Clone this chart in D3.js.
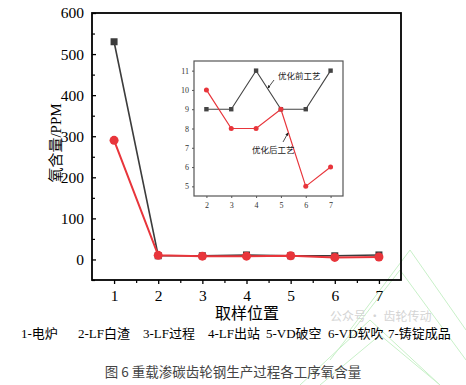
<!DOCTYPE html>
<html><head><meta charset="utf-8">
<script src="https://cdn.jsdelivr.net/npm/d3@7"></script>
<style>html,body{margin:0;padding:0;background:#fff;}svg{display:block;}</style>
</head><body>
<script>
const positions = [1,2,3,4,5,6,7];
const beforeVals = [530, 9, 9, 11, 9, 9, 11];
const afterVals  = [290, 10, 8, 8, 9, 5, 6];
const insetPositions = [2,3,4,5,6,7];
const insetBefore = [9, 9, 11, 9, 9, 11];
const insetAfter  = [10, 8, 8, 9, 5, 6];
const yTicks = [0,100,200,300,400,500,600];
const insetYTicks = [5,6,7,8,9,10,11];
const legendItems = ["1-电炉","2-LF白渣","3-LF过程","4-LF出站","5-VD破空","6-VD软吹","7-铸锭成品"];
const legendX = [21,78,143,208,266,328,388];

const W=466,H=385;
const svg=d3.select("body").append("svg").attr("width",W).attr("height",H);
const serif="Liberation Serif, Times New Roman, Tinos, DejaVu Serif, serif";
const cjk="Liberation Serif, Times New Roman, Noto Sans CJK SC, serif";
const BLK="#3c3c3c", RED="#e8353b";

// watermark
const wm=svg.append("g").attr("stroke","#c8f0c8").attr("fill","none").attr("stroke-width",1);
[[300,385,370,320,440,385],[320,385,380,335,440,385],[350,330,410,250,466,330],[330,360,400,270,466,360]].forEach(p=>{
  wm.append("polyline").attr("points",`${p[0]},${p[1]} ${p[2]},${p[3]} ${p[4]},${p[5]}`);
});
svg.append("text").attr("x",330).attr("y",321).attr("font-family","Noto Sans CJK SC, sans-serif")
  .attr("font-size",12).attr("fill","#d4d4d4").text("公众号 · 齿轮传动");

const x=d3.scaleLinear().domain([0.5,7.5]).range([92,401]);
const y=d3.scaleLinear().domain([-50,600]).range([280,13]);

// frame
svg.append("rect").attr("x",92).attr("y",13).attr("width",401-92).attr("height",280-13)
  .attr("fill","none").attr("stroke","#000").attr("stroke-width",1.8);

// left axis
const ya=svg.append("g").attr("transform","translate(92,0)")
  .call(d3.axisLeft(y).tickValues(yTicks).tickSize(-4).tickPadding(8));
ya.attr("font-family",serif).attr("font-size",15.5);
ya.select(".domain").remove();
ya.selectAll("text").style("font-family",serif).attr("font-size",15.5).attr("fill","#000");
ya.selectAll("line").attr("stroke-width",1.3);
svg.append("g").attr("transform","translate(92,0)")
  .call(d3.axisLeft(y).tickValues([-50,50,150,250,350,450,550]).tickSize(-3).tickFormat(""))
  .call(g=>g.select(".domain").remove()).selectAll("line").attr("stroke-width",1.2);

// bottom axis
const xa=svg.append("g").attr("transform","translate(0,280)")
  .call(d3.axisBottom(x).tickValues(positions).tickSize(4).tickPadding(6).tickFormat(d3.format("d")));
xa.attr("font-family",serif).attr("font-size",15.5);
xa.select(".domain").remove();
xa.selectAll("text").style("font-family",serif).attr("font-size",15.5).attr("fill","#000");
xa.selectAll("line").attr("stroke-width",1.3);
svg.append("g").attr("transform","translate(0,280)")
  .call(d3.axisBottom(x).tickValues([1.5,2.5,3.5,4.5,5.5,6.5]).tickSize(3).tickFormat(""))
  .call(g=>g.select(".domain").remove()).selectAll("line").attr("stroke-width",1.2);

// y label
svg.append("text").attr("transform","translate(56,143) rotate(-90)").attr("text-anchor","middle")
  .attr("dominant-baseline","central").style("font-family",cjk).attr("font-size",15).attr("fill","#000")
  .text("氧含量/PPM");

// main series
const line=d3.line().x((d,i)=>x(positions[i])).y(d=>y(d));
svg.append("path").datum(beforeVals).attr("d",line).attr("fill","none").attr("stroke",BLK).attr("stroke-width",1.6);
svg.append("path").datum(afterVals).attr("d",line).attr("fill","none").attr("stroke",RED).attr("stroke-width",2);
svg.append("g").selectAll("rect").data(beforeVals).join("rect")
  .attr("x",(d,i)=>x(positions[i])-3.5).attr("y",d=>y(d)-3.5).attr("width",7).attr("height",7).attr("fill",BLK);
svg.append("g").selectAll("circle").data(afterVals).join("circle")
  .attr("cx",(d,i)=>x(positions[i])).attr("cy",d=>y(d)).attr("r",4.5).attr("fill",RED);

// inset
const xi=d3.scaleLinear().domain([1.5,7.5]).range([194,343]);
const yi=d3.scaleLinear().domain([4.5,11.5]).range([196,61]);
svg.append("rect").attr("x",182).attr("y",52).attr("width",172).attr("height",165).attr("fill","#fff");
svg.append("rect").attr("x",194).attr("y",61).attr("width",343-194).attr("height",196-61)
  .attr("fill","#fff").attr("stroke","#555").attr("stroke-width",1.2);
const yia=svg.append("g").attr("transform","translate(194,0)")
  .call(d3.axisLeft(yi).tickValues(insetYTicks).tickSize(2).tickPadding(3).tickFormat(d3.format("d")));
yia.select(".domain").remove();
yia.selectAll("text").style("font-family",serif).attr("font-size",8).attr("fill","#333");
yia.selectAll("line").attr("stroke","#555");
const xia=svg.append("g").attr("transform","translate(0,196)")
  .call(d3.axisBottom(xi).tickValues(insetPositions).tickSize(2).tickPadding(4).tickFormat(d3.format("d")));
xia.select(".domain").remove();
xia.selectAll("text").style("font-family",serif).attr("font-size",8).attr("fill","#333");
xia.selectAll("line").attr("stroke","#555");

const iline=d3.line().x((d,i)=>xi(insetPositions[i])).y(d=>yi(d));
svg.append("path").datum(insetBefore).attr("d",iline).attr("fill","none").attr("stroke","#444").attr("stroke-width",1.1);
svg.append("path").datum(insetAfter).attr("d",iline).attr("fill","none").attr("stroke",RED).attr("stroke-width",1.2);
svg.append("g").selectAll("rect").data(insetBefore).join("rect")
  .attr("x",(d,i)=>xi(insetPositions[i])-2.2).attr("y",d=>yi(d)-2.2).attr("width",4.4).attr("height",4.4).attr("fill","#444");
svg.append("g").selectAll("circle").data(insetAfter).join("circle")
  .attr("cx",(d,i)=>xi(insetPositions[i])).attr("cy",d=>yi(d)).attr("r",2.5).attr("fill",RED);

// annotations
svg.append("defs").append("marker").attr("id","ah").attr("viewBox","0 0 6 6").attr("refX",5).attr("refY",3)
  .attr("markerWidth",4).attr("markerHeight",4).attr("orient","auto")
  .append("path").attr("d","M0,0L6,3L0,6Z").attr("fill","#222");
svg.append("text").attr("x",278).attr("y",79).style("font-family",cjk).attr("font-size",8.5).attr("fill","#222").text("优化前工艺");
svg.append("line").attr("x1",274).attr("y1",80).attr("x2",268).attr("y2",88).attr("stroke","#222").attr("stroke-width",0.8).attr("marker-end","url(#ah)");
svg.append("text").attr("x",252).attr("y",153).style("font-family",cjk).attr("font-size",8.5).attr("fill","#222").text("优化后工艺");
svg.append("line").attr("x1",283).attr("y1",142).attr("x2",288).attr("y2",133).attr("stroke","#222").attr("stroke-width",0.8).attr("marker-end","url(#ah)");

// x title
svg.append("text").attr("x",247).attr("y",319).attr("text-anchor","middle").style("font-family",cjk)
  .attr("font-size",16).attr("fill","#000").text("取样位置");
// legend
svg.append("g").selectAll("text").data(legendItems).join("text")
  .attr("x",(d,i)=>legendX[i]).attr("y",338).style("font-family",cjk).attr("font-size",13).attr("fill","#000").text(d=>d);
// caption
svg.append("text").attr("x",233).attr("y",377).attr("text-anchor","middle").style("font-family","Noto Sans CJK SC, sans-serif")
  .attr("font-size",13.5).attr("fill","#444").text("图 6 重载渗碳齿轮钢生产过程各工序氧含量");
</script>
</body></html>
